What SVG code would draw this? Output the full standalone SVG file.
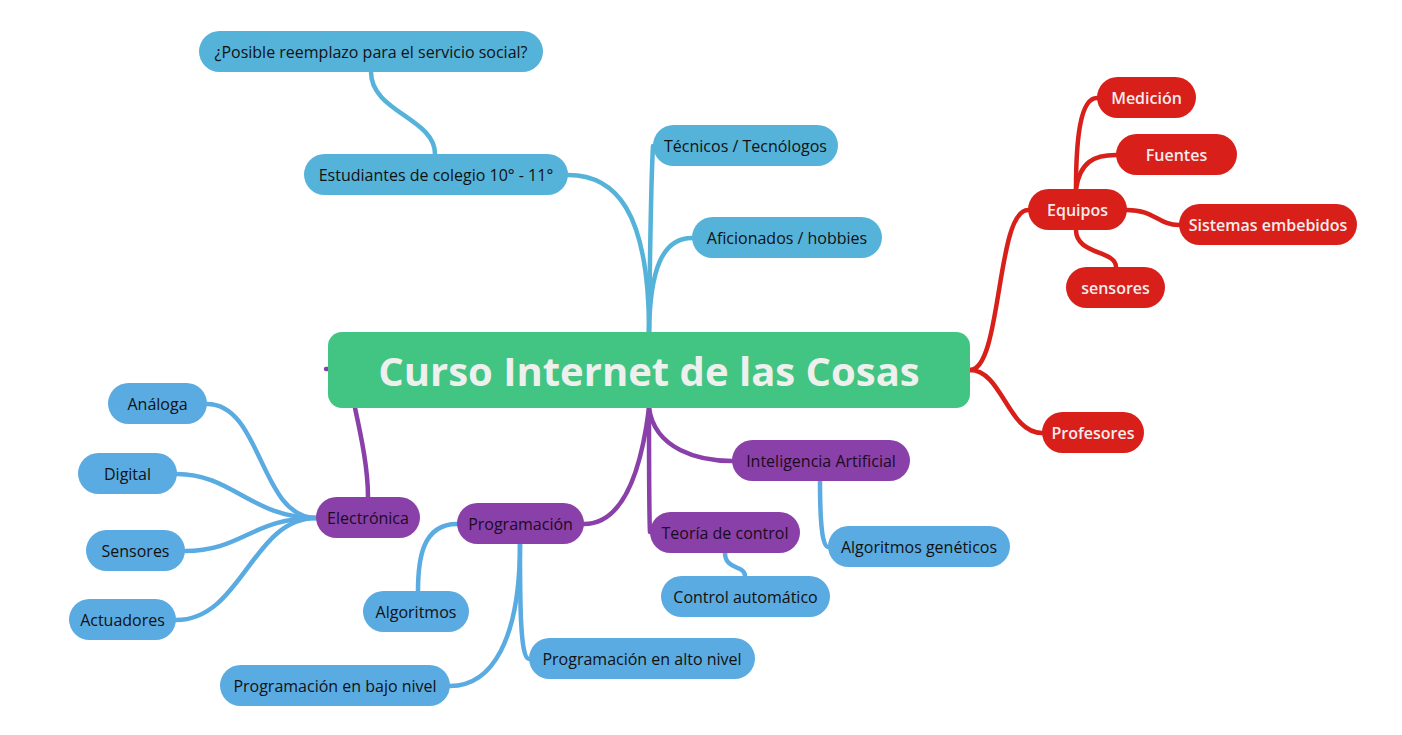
<svg xmlns="http://www.w3.org/2000/svg" width="1402" height="735" viewBox="0 0 1402 735">
<style>
text{font-family:"Open Sans","Noto Sans","Liberation Sans",sans-serif;font-size:16px;text-anchor:middle;dominant-baseline:central}
.b1 rect{fill:#55b3d9}
.b2 rect{fill:#5aabe1}
.b1 text,.b2 text{fill:#111;font-weight:500}
.r rect{fill:#d81f19}
.r text{fill:#f3ecec;font-weight:600}
.p rect{fill:#8a40a9}
.p text{fill:#1b0b1e;font-weight:500}
.c{fill:none;stroke-width:4.5;stroke-linecap:round}
.cb1{stroke:#55b3d9}.cb2{stroke:#5aabe1}.cr{stroke:#d81f19}.cp{stroke:#8a40a9}
</style>
<g id="connectors">
<path class="c cb1" d="M649,332 C649,210 615,175 568,175"/>
<path class="c cb1" d="M649,332 C650,250 651,180 653,146"/>
<path class="c cb1" d="M649,332 C650,270 662,238 692,238"/>
<path class="c cb1" d="M435,154 C435,118 371,112 371,72"/>
<path class="c cr" d="M970,370 C1002,370 996,210 1028,210"/>
<path class="c cr" d="M970,370 C1002,370 1008,433 1042,433"/>
<path class="c cr" d="M1076,189 C1076,140 1080,98 1097,98"/>
<path class="c cr" d="M1076,189 C1080,162 1094,155 1116,155"/>
<path class="c cr" d="M1127,210 C1155,210 1158,225 1179,225"/>
<path class="c cr" d="M1076,230 C1076,255 1116,250 1116,267"/>
<path class="c cp" d="M649,408 C655,450 700,461 732,461"/>
<path class="c cp" d="M649,408 C649,470 649,515 650,532"/>
<path class="c cp" d="M649,408 C640,480 620,524 584,524"/>
<path class="c cp" d="M355,408 C362,440 368,470 368,497"/>
<path class="c cp" d="M326,369 L330,369"/>
<path class="c cb2" d="M316,518 C260,518 262,404 207,404"/>
<path class="c cb2" d="M316,518 C252,518 232,474 177,474"/>
<path class="c cb2" d="M316,518 C252,518 242,551 185,551"/>
<path class="c cb2" d="M316,518 C252,518 242,620 176,620"/>
<path class="c cb2" d="M457,524 C422,524 418,560 418,591"/>
<path class="c cb2" d="M520,544 C520,640 492,686 450,686"/>
<path class="c cb2" d="M520,544 C520,600 520,659 529,659"/>
<path class="c cb2" d="M820,481 C820,520 822,547 828,547"/>
<path class="c cb2" d="M725,553 C725,570 745,565 745,576"/>
</g>
<g id="central"><rect x="328" y="332" width="642" height="76" rx="14" fill="#42c482"/><text x="649" y="370" style="font-size:40px;font-weight:700;fill:#eef0ee">Curso Internet de las Cosas</text></g>
<g id="n-posible" class="b1"><rect x="199" y="31" width="344" height="41" rx="20.5"/><text x="371" y="51.5">¿Posible reemplazo para el servicio social?</text></g>
<g id="n-estudiantes" class="b1"><rect x="304" y="154" width="264" height="41" rx="20.5"/><text x="436" y="174.5">Estudiantes de colegio 10° - 11°</text></g>
<g id="n-tecnicos" class="b1"><rect x="653" y="125" width="185" height="41" rx="20.5"/><text x="745.5" y="145.5">Técnicos / Tecnólogos</text></g>
<g id="n-aficionados" class="b1"><rect x="692" y="217" width="190" height="41" rx="20.5"/><text x="787" y="237.5">Aficionados / hobbies</text></g>
<g id="n-medicion" class="r"><rect x="1097" y="77" width="99" height="41" rx="20.5"/><text x="1146.5" y="97.5">Medición</text></g>
<g id="n-fuentes" class="r"><rect x="1116" y="134" width="121" height="41" rx="20.5"/><text x="1176.5" y="154.5">Fuentes</text></g>
<g id="n-equipos" class="r"><rect x="1028" y="189" width="99" height="41" rx="20.5"/><text x="1077.5" y="209.5">Equipos</text></g>
<g id="n-sistemas" class="r"><rect x="1179" y="204" width="178" height="41" rx="20.5"/><text x="1268" y="224.5">Sistemas embebidos</text></g>
<g id="n-sensores-r" class="r"><rect x="1066" y="267" width="99" height="41" rx="20.5"/><text x="1115.5" y="287.5">sensores</text></g>
<g id="n-profesores" class="r"><rect x="1042" y="412" width="102" height="41" rx="20.5"/><text x="1093" y="432.5">Profesores</text></g>
<g id="n-ia" class="p"><rect x="732" y="440" width="178" height="41" rx="20.5"/><text x="821" y="460.5">Inteligencia Artificial</text></g>
<g id="n-teoria" class="p"><rect x="650" y="512" width="150" height="41" rx="20.5"/><text x="725" y="532.5">Teoría de control</text></g>
<g id="n-electronica" class="p"><rect x="316" y="497" width="104" height="41" rx="20.5"/><text x="368" y="517.5">Electrónica</text></g>
<g id="n-programacion" class="p"><rect x="457" y="503" width="127" height="41" rx="20.5"/><text x="520.5" y="523.5">Programación</text></g>
<g id="n-analoga" class="b2"><rect x="108" y="383" width="99" height="41" rx="20.5"/><text x="157.5" y="403.5">Análoga</text></g>
<g id="n-digital" class="b2"><rect x="78" y="453" width="99" height="41" rx="20.5"/><text x="127.5" y="473.5">Digital</text></g>
<g id="n-sensores" class="b2"><rect x="86" y="530" width="99" height="41" rx="20.5"/><text x="135.5" y="550.5">Sensores</text></g>
<g id="n-actuadores" class="b2"><rect x="69" y="599" width="107" height="41" rx="20.5"/><text x="122.5" y="619.5">Actuadores</text></g>
<g id="n-algoritmos" class="b2"><rect x="363" y="591" width="106" height="41" rx="20.5"/><text x="416" y="611.5">Algoritmos</text></g>
<g id="n-bajo" class="b2"><rect x="220" y="665" width="230" height="41" rx="20.5"/><text x="335" y="685.5">Programación en bajo nivel</text></g>
<g id="n-alto" class="b2"><rect x="529" y="638" width="226" height="41" rx="20.5"/><text x="642" y="658.5">Programación en alto nivel</text></g>
<g id="n-control" class="b2"><rect x="661" y="576" width="169" height="41" rx="20.5"/><text x="745.5" y="596.5">Control automático</text></g>
<g id="n-geneticos" class="b2"><rect x="828" y="526" width="182" height="41" rx="20.5"/><text x="919" y="546.5">Algoritmos genéticos</text></g>
</svg>
